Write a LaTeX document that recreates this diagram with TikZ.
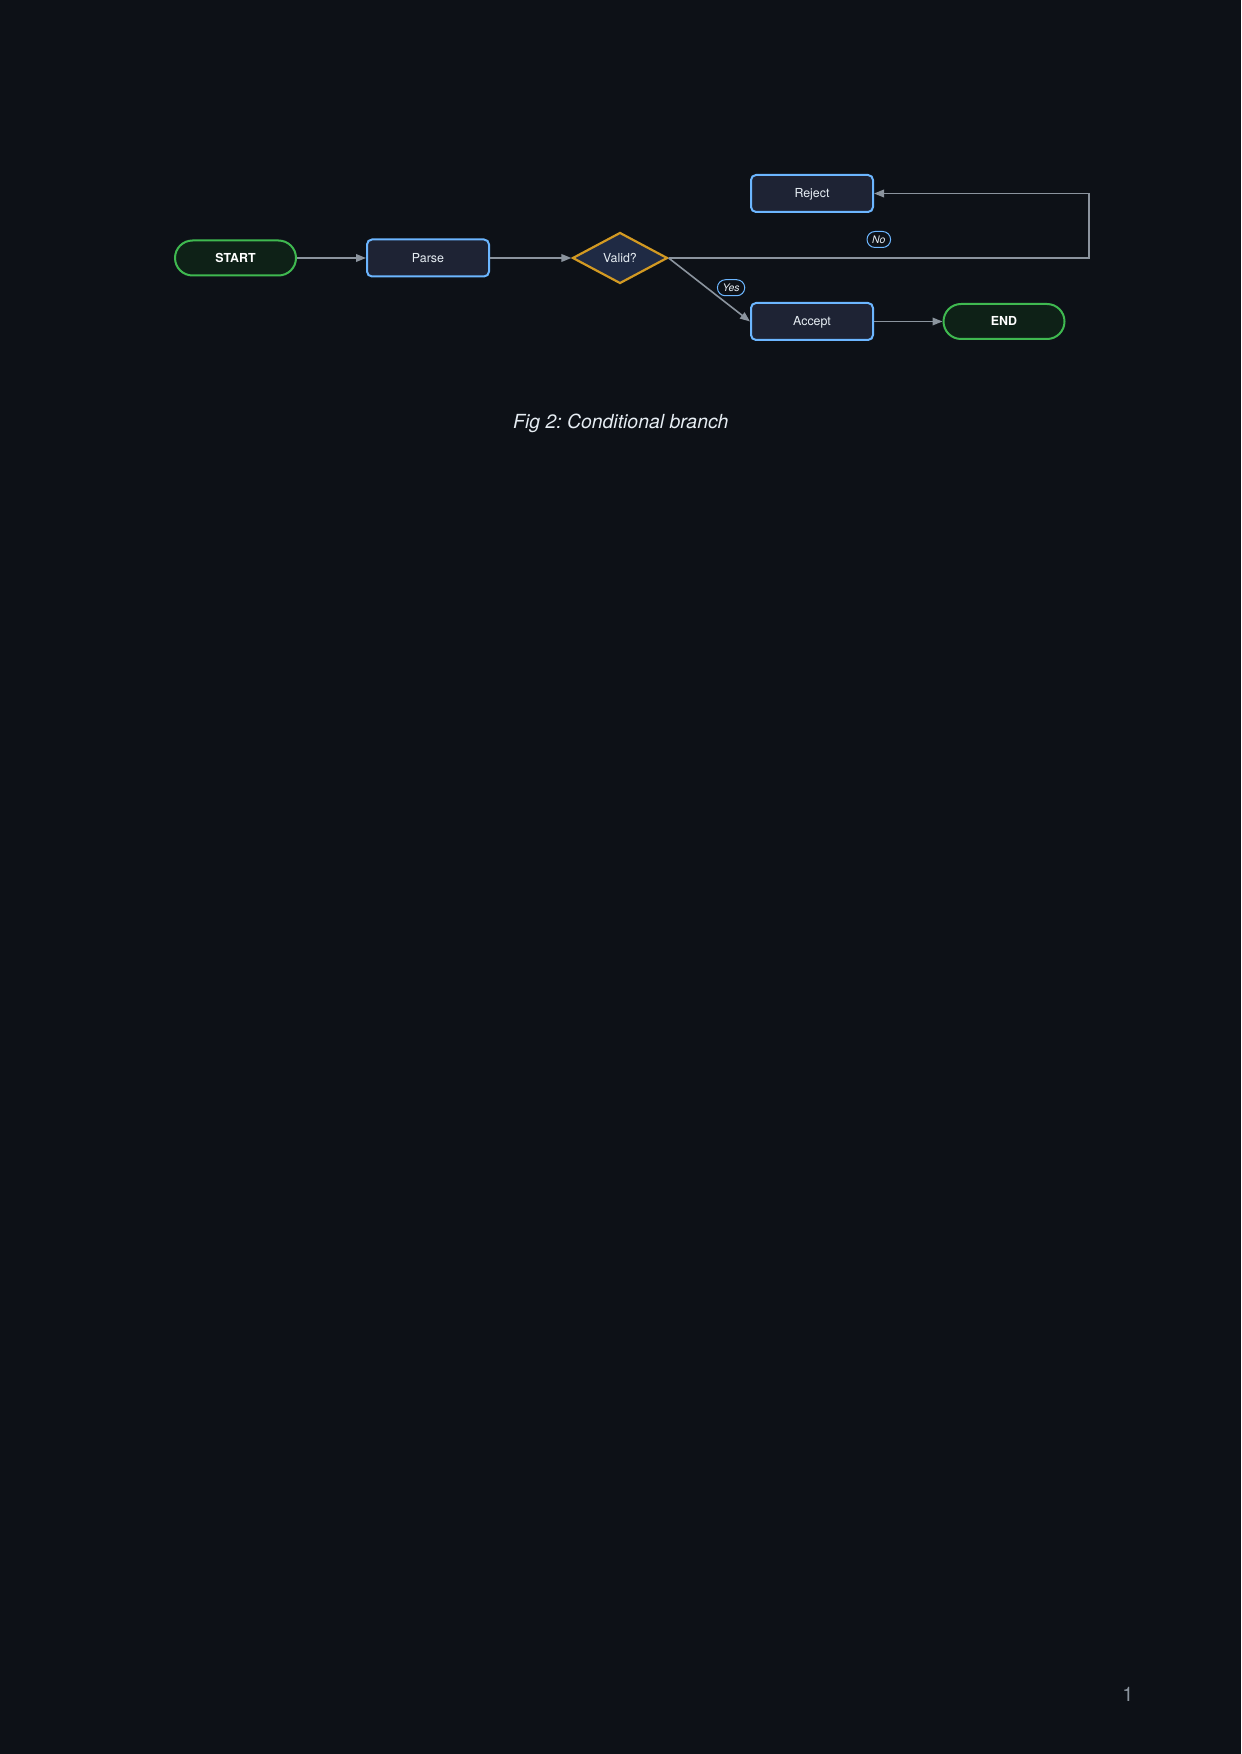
\documentclass[tikz,border=0pt]{standalone}
\usepackage{fontspec}
\setmainfont{TeX Gyre Heros}
\usepackage{tikz}
\usetikzlibrary{arrows.meta,shapes,calc,positioning}
\definecolor{fondo}{HTML}{0D1117}
\definecolor{cajaAzul}{HTML}{1E2334}
\definecolor{bordeAzul}{HTML}{6CB6FF}
\definecolor{verde}{HTML}{3FB950}
\definecolor{verdeOscuro}{HTML}{0E2117}
\definecolor{ambar}{HTML}{D29922}
\definecolor{rombo}{HTML}{1F2A44}
\definecolor{gris}{HTML}{8B949E}
\definecolor{texto}{HTML}{E6EDF3}
\frenchspacing
\tikzstyle{terminal}=[rectangle, rounded corners=8.75pt, draw=verde,
                    fill=verdeOscuro, line width=1pt, inner sep=0pt,
                    minimum width=60.5pt, minimum height=17.5pt, text=white,
                    text height=4.5pt, text depth=0pt,
                    font=\fontsize{6.2}{7}\selectfont\bfseries]
\tikzstyle{proceso}=[rectangle, rounded corners=2.5pt, draw=bordeAzul,
                    fill=cajaAzul, line width=1pt, inner sep=0pt,
                    minimum width=61pt, minimum height=18.5pt, text=texto,
                    text height=4.5pt, text depth=0pt,
                    font=\fontsize{6.2}{7}\selectfont]
\tikzstyle{decision}=[diamond, draw=ambar, fill=rombo, line width=1.1pt,
                    inner sep=0pt, minimum width=47.5pt, minimum height=25.5pt,
                    text=texto, font=\fontsize{6.2}{7}\selectfont]
\tikzstyle{flecha}=[draw=gris, line width=0.8pt,
                    -{Triangle[length=5pt,width=3.8pt]}]
\tikzstyle{etiqueta}=[rectangle, rounded corners=4pt, draw=bordeAzul,
                    fill=fondo, line width=0.5pt, inner xsep=2.6pt,
                    inner ysep=1.2pt, minimum height=8pt, text=texto,
                    font=\fontsize{5.2}{6}\selectfont\itshape]
\begin{document}
\begin{tikzpicture}[x=0.5pt, y=-0.5pt]

    \fill[fondo] (0,0) rectangle (1241,1754);

    \draw (235.5,258) node (start) [terminal] {START};
    \draw (428,258) node (parse) [proceso] {Parse};
    \draw (620,258) node (valid) [decision] {Valid?};
    \draw (812,193.5) node (reject) [proceso] {Reject};
    \draw (812,321.5) node (accept) [proceso] {Accept};
    \draw (1004,321.5) node (finish) [terminal] {END};
    \coordinate (giro) at (1089,258);

    \foreach \i/\j in {start/parse,parse/valid,accept/finish}
        \draw [flecha] (\i) to (\j);

    \draw [flecha] (valid.east) -- node[etiqueta, above=5pt] (noEtq) {No}
        (giro) |- (reject.east);
    \draw [flecha] (valid.east) -- node[etiqueta, right=3.8pt, yshift=1pt] (siEtq) {Yes}
        (accept.west);

    \draw (620.8,428.3) node (caption) [anchor=base, text=texto,
        font=\fontsize{9.7}{12}\selectfont\itshape] {Fig 2: Conditional branch};
    \draw (1128,1694) node (pagina) [inner sep=0pt, text=gris,
        font=\fontsize{10}{12}\selectfont] {1};

\end{tikzpicture}
\end{document}
